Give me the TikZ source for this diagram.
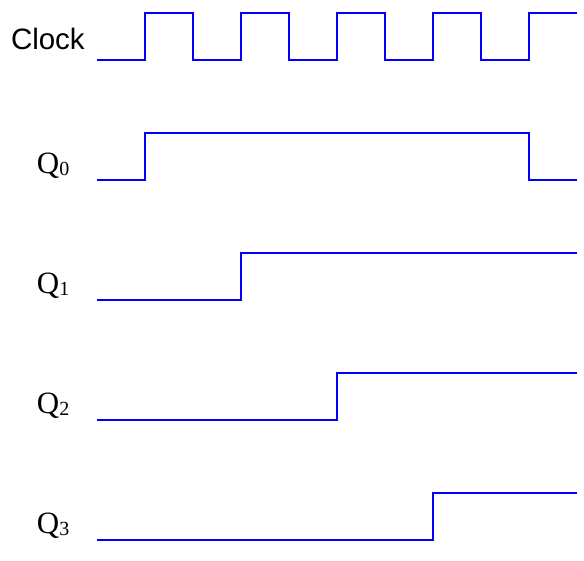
\documentclass[tikz,border=0pt]{standalone}
\usepackage{fontspec}
\setmainfont{Liberation Serif}
\setsansfont{Liberation Sans}
\begin{document}
\begin{tikzpicture}[x=1pt,y=-1pt,
  wave/.style={draw=blue,line width=2pt,line join=miter,line cap=butt},
  lbl/.style={anchor=base west,inner sep=0pt,font=\fontsize{31}{31}\selectfont},
  clk/.style={anchor=base west,inner sep=0pt,font=\sffamily\fontsize{29.5}{30}\selectfont}]
\useasboundingbox (0,0) rectangle (584,560);
\node[clk] (clock) at (10.8,49) {Clock};
\node[lbl] (q0) at (36.7,173) {Q\raisebox{-2.5pt}{\fontsize{20}{20}\selectfont 0}};
\node[lbl] (q1) at (36.7,293) {Q\raisebox{-2.5pt}{\fontsize{20}{20}\selectfont 1}};
\node[lbl] (q2) at (36.7,413) {Q\raisebox{-2.5pt}{\fontsize{20}{20}\selectfont 2}};
\node[lbl] (q3) at (36.7,533) {Q\raisebox{-2.5pt}{\fontsize{20}{20}\selectfont 3}};
% clock
\draw[wave] (97,60) -- (145,60) -- (145,13) -- (193,13) -- (193,60)
  -- (241,60) -- (241,13) -- (289,13) -- (289,60)
  -- (337,60) -- (337,13) -- (385,13) -- (385,60)
  -- (433,60) -- (433,13) -- (481,13) -- (481,60)
  -- (529,60) -- (529,13) -- (577,13);
% Q0
\draw[wave] (97,180) -- (145,180) -- (145,133) -- (529,133) -- (529,180) -- (577,180);
% Q1
\draw[wave] (97,300) -- (241,300) -- (241,253) -- (577,253);
% Q2
\draw[wave] (97,420) -- (337,420) -- (337,373) -- (577,373);
% Q3
\draw[wave] (97,540) -- (433,540) -- (433,493) -- (577,493);
\end{tikzpicture}
\end{document}
